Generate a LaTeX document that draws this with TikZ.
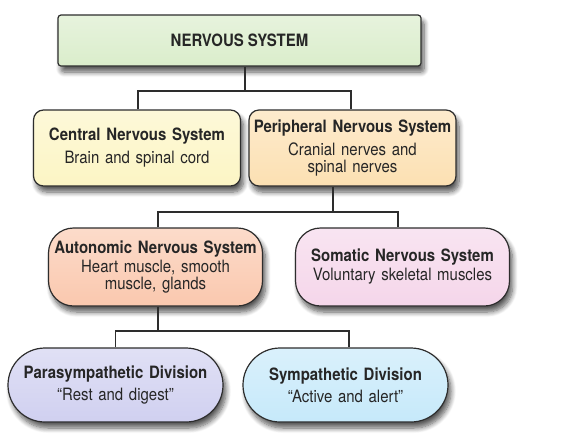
\documentclass[tikz,border=0pt]{standalone}
\usepackage{fontspec}
\setmainfont{TeX Gyre Heros}[FakeStretch=0.88]
\usepackage{xcolor}
\usepackage{tikz}
\definecolor{rootgreen}{RGB}{218, 237, 203}
\definecolor{cnsyellow}{RGB}{252, 245, 196}
\definecolor{pnspeach}{RGB}{252, 224, 178}
\definecolor{anssalmon}{RGB}{250, 200, 174}
\definecolor{snspink}{RGB}{245, 214, 234}
\definecolor{paralilac}{RGB}{208, 208, 240}
\definecolor{symcyan}{RGB}{198, 233, 250}
\definecolor{edgegray}{RGB}{45, 45, 45}
\usetikzlibrary{positioning,calc,shadows.blur}

\begin{document}
\begin{tikzpicture}[x=1pt, y=-1pt,
    every node/.style={font=\fontsize{17}{17}\selectfont, text=black!85},
    boxbase/.style={draw=edgegray, line width=1.2pt, align=center, inner sep=2pt,
        blur shadow={shadow xshift=3pt, shadow yshift=-6pt, shadow blur radius=5pt, shadow blur steps=8, shadow opacity=65}},
    tint/.style={top color=#1!65!white, bottom color=#1},
    rootbox/.style={boxbase, rectangle, rounded corners=3pt, tint=rootgreen, minimum width=363pt, minimum height=51pt},
    branch/.style={boxbase, rectangle, rounded corners=10pt, minimum width=207pt, minimum height=76pt, text width=200pt},
    subbranch/.style={boxbase, rectangle, rounded corners=25pt, minimum width=214pt, minimum height=78pt, text width=205pt},
    division/.style={boxbase, rectangle, rounded corners=37pt, minimum height=74pt, text width=200pt},
    link/.style={draw=edgegray, line width=1.1pt}
]
    \useasboundingbox (0,0) rectangle (577,440);

    \node[rootbox] (nervous) at (239.5,40.5) {\textbf{NERVOUS SYSTEM}};

    \node[branch, tint=cnsyellow] (cns) at (137,148) {
        \textbf{Central Nervous System}\\[6pt]
        Brain and spinal cord
    };

    \node[branch, tint=pnspeach] (pns) at (352.5,148) {
        \textbf{Peripheral Nervous System}\\[6pt]
        Cranial nerves and\\
        spinal nerves
    };

    \node[subbranch, tint=anssalmon] (ans) at (155.5,267) {
        \textbf{Autonomic Nervous System}\\[2pt]
        Heart muscle, smooth\\
        muscle, glands
    };

    \node[subbranch, tint=snspink] (sns) at (402.5,267) {
        \textbf{Somatic Nervous System}\\[2pt]
        Voluntary skeletal muscles
    };

    \node[division, tint=paralilac, minimum width=215pt] (para) at (115.5,385) {
        \textbf{Parasympathetic Division}\\[5pt]
        “Rest and digest”
    };

    \node[division, tint=symcyan, minimum width=205pt] (symp) at (345.5,385) {
        \textbf{Sympathetic Division}\\[5pt]
        “Active and alert”
    };

    % tree connectors
    \coordinate (split1) at (245,91);
    \coordinate (split2) at (333,212);
    \coordinate (split3) at (158,331);

    \draw[link] (nervous.south -| split1) -- (split1);
    \draw[link] ([xshift=1pt]cns.north) |- (split1) -| ([xshift=-1.5pt]pns.north);

    \draw[link] (pns.south -| split2) -- (split2);
    \draw[link] ([xshift=2.5pt]ans.north) |- (split2) -| ([xshift=-4.5pt]sns.north);

    \draw[link] (ans.south -| split3) -- (split3);
    \draw[link] (para.north) |- (split3) -| ([xshift=3.5pt]symp.north);
\end{tikzpicture}
\end{document}
